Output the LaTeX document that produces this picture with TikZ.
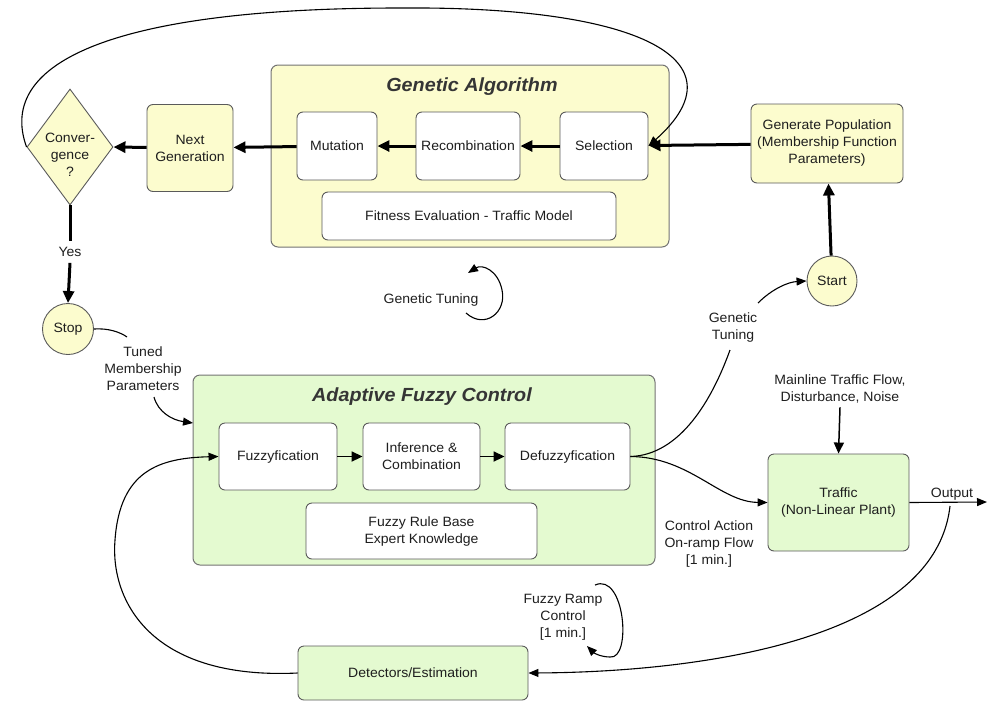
\documentclass[tikz,border=0pt]{standalone}
\usepackage{fontspec}
\setmainfont[FakeStretch=1.04]{Liberation Sans}
\usetikzlibrary{arrows.meta,shapes.geometric}
\definecolor{gaYellow}{RGB}{252,252,206}
\definecolor{fcGreen}{RGB}{228,250,208}
\definecolor{edge}{RGB}{90,90,90}
\definecolor{ink}{RGB}{30,30,30}
\begin{document}
\begin{tikzpicture}[x=1pt,y=-1pt,
  txt/.style={font=\fontsize{13.5}{17}\selectfont, text=ink, align=center, inner sep=0pt},
  container/.style={draw=edge!85, line width=1pt, rounded corners=7pt},
  blockbox/.style={txt, draw=edge, line width=0.9pt, rounded corners=6pt},
  whitebox/.style={blockbox, fill=white},
  yellowbox/.style={blockbox, fill=gaYellow},
  greenbox/.style={blockbox, fill=fcGreen},
  title/.style={font=\fontsize{19}{22}\selectfont\bfseries\itshape, text=ink!90, inner sep=0pt},
  bigflow/.style={line width=3pt, -{Triangle[length=12pt,width=11pt]}},
  midflow/.style={line width=1.8pt, -{Triangle[length=11pt,width=10pt]}},
  thinflow/.style={line width=1.1pt, -{Triangle[length=10pt,width=8pt]}},
  thinline/.style={line width=1.1pt},
]
\useasboundingbox (0,0) rectangle (987,702);

% ---------- Genetic algorithm block ----------
\node[container, fill=gaYellow, minimum width=398pt, minimum height=182pt] (ga) at (470,156) {};
\node[title] (gatitle) at (472,87) {Genetic Algorithm};
\node[whitebox, minimum width=80pt, minimum height=68pt] (mut) at (337,146) {Mutation};
\node[whitebox, minimum width=104pt, minimum height=68pt] (rec) at (468,146) {Recombination};
\node[whitebox, minimum width=88pt, minimum height=68pt] (sel) at (604,146) {Selection};
\node[whitebox, minimum width=294pt, minimum height=48pt] (fit) at (469,216) {Fitness Evaluation - Traffic Model};

\node[yellowbox, minimum width=86pt, minimum height=87pt] (next) at (190,148) {Next\\Generation};
\node[diamond, draw=edge, line width=0.9pt, fill=gaYellow, minimum width=86pt, minimum height=116pt, inner sep=0pt] (conv) at (70,147) {};
\node[txt] (convtext) at (70,155) {Conver-\\gence\\?};
\node[yellowbox, minimum width=152pt, minimum height=79pt] (gen) at (827,143.5) {Generate Population\\(Membership Function\\Parameters)};
\node[circle, draw=edge, line width=0.9pt, fill=gaYellow, minimum size=50pt, txt] (start) at (832,281) {Start};
\node[circle, draw=edge, line width=0.9pt, fill=gaYellow, minimum size=51pt, txt] (stop) at (68,329) {Stop};
\node[txt, inner sep=6pt] (yes) at (70,252) {Yes};

% GA flow
\draw[bigflow] (start) -- (gen);
\draw[bigflow] (gen) -- (sel);
\draw[bigflow] (sel) -- (rec);
\draw[bigflow] (rec) -- (mut);
\draw[bigflow] (mut) -- (next);
\draw[bigflow] (next) -- (conv.east);
\draw[line width=3pt] (conv.south) -- (yes.north);
\draw[bigflow] (yes.south) -- (stop.north);

% generation loop back to selection
\draw[thinflow] (conv.west) .. controls (-5,60) and (120,8) .. (400,8)
  .. controls (640,6) and (745,60) .. (sel.east);

% genetic tuning cycle
\node[txt] (gtune) at (431,300) {Genetic Tuning};
\draw[thinflow] (466,313) .. controls (485,330) and (507,312) .. (502,290)
  .. controls (498,270) and (482,264) .. (468,273);

% ---------- Adaptive fuzzy control block ----------
\node[container, fill=fcGreen, minimum width=462pt, minimum height=190pt] (afc) at (424,470) {};
\node[title] (afctitle) at (422,397) {Adaptive Fuzzy Control};
\node[whitebox, minimum width=118pt, minimum height=67pt] (fuz) at (278,456.5) {Fuzzyfication};
\node[whitebox, minimum width=117pt, minimum height=67pt] (inf) at (421.5,456.5) {Inference \&\\Combination};
\node[whitebox, minimum width=125pt, minimum height=67pt] (def) at (567.5,456.5) {Defuzzyfication};
\node[whitebox, minimum width=231pt, minimum height=56pt] (rule) at (421.5,531) {Fuzzy Rule Base\\Expert Knowledge};

\draw[midflow] (fuz) -- (inf);
\draw[midflow] (inf) -- (def);

% tuned parameters from the genetic loop
\node[txt] (tuned) at (143,369) {Tuned\\Membership\\Parameters};
\coordinate (t1) at (127,337);
\coordinate (t2) at (154,397);
\coordinate (afcin) at (193,423);
\draw[thinline] (stop.east) .. controls (108,328) and (120,332) .. (t1);
\draw[thinflow] (t2) .. controls (158,412) and (172,420) .. (afcin);

% plant side
\node[greenbox, minimum width=141pt, minimum height=97pt] (traffic) at (838.5,502.5) {Traffic\\(Non-Linear Plant)};
\node[greenbox, minimum width=230pt, minimum height=54pt] (det) at (413,673) {Detectors/Estimation};
\node[txt, inner sep=4pt] (mainline) at (840,389) {Mainline Traffic Flow,\\Disturbance, Noise};
\node[txt] (ctrl) at (709,544) {Control Action\\On-ramp Flow\\{[1 min.]}};
\node[txt] (ramp) at (563,617) {Fuzzy Ramp\\Control\\{[1 min.]}};
\node[txt] (gtune2) at (733,328) {Genetic\\Tuning};
\node[txt] (outlbl) at (952,494) {Output};

\coordinate (outend) at (987,502);
\coordinate (outtap) at (950,506);
\coordinate (g1) at (730,350);
\coordinate (g2) at (758,303);

\draw[line width=1.5pt, -{Triangle[length=11pt,width=10pt]}] (mainline.south) -- (traffic.north);
\draw[thinflow] (traffic.east) -- (outend);
\draw[thinflow] (def.east) .. controls (690,457) and (720,502) .. (traffic.west);
\draw[thinline] (def.east) .. controls (680,455) and (712,400) .. (g1);
\draw[thinflow] (g2) .. controls (772,289) and (788,282) .. (start.west);
\draw[thinflow] (outtap) .. controls (935,640) and (700,672) .. (det.east);
\draw[thinflow] (det.west) .. controls (150,680) and (110,600) .. (115,540)
  .. controls (120,470) and (160,458) .. (fuz.west);

% fuzzy ramp control cycle
\draw[thinflow] (595,585) .. controls (625,572) and (632,660) .. (610,657)
  .. controls (601,657) and (594,653) .. (587,646);
\end{tikzpicture}
\end{document}
